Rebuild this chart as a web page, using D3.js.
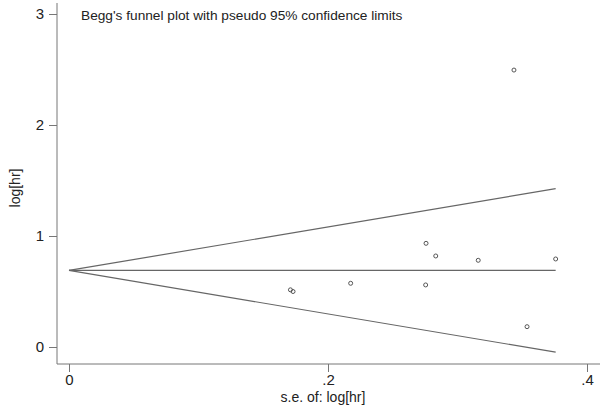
<!DOCTYPE html>
<html>
<head>
<meta charset="utf-8">
<script src="https://cdn.jsdelivr.net/npm/d3@7"></script>
<style>
  body { margin: 0; background: #fff; }
  text { font-family: "Liberation Sans", Arial, sans-serif; fill: #222; }
</style>
</head>
<body>
<svg width="600" height="406"></svg>
<script>
var svg = d3.select("svg");

// study estimates
var se    = [0.3436, 0.2757, 0.2832, 0.316, 0.3758, 0.2175, 0.2754, 0.3537, 0.171, 0.173];
var loghr = [2.495, 0.934, 0.82, 0.781, 0.793, 0.574, 0.559, 0.183, 0.515, 0.50];
var pooled = 0.69;
var seMax = 0.3758;
var xTicks = [0, 0.2, 0.4];
var xTickLabels = ["0", ".2", ".4"];
var yTicks = [0, 1, 2, 3];

var x = d3.scaleLinear().domain([0, 0.4]).range([69, 587]);
var y = d3.scaleLinear().domain([0, 3]).range([347, 14]);

var axisColor = "#777";

// axes
var xAxis = svg.append("g")
    .attr("transform", "translate(0,364)")
    .call(d3.axisBottom(x).tickValues(xTicks)
        .tickFormat(function(d, i) { return xTickLabels[i]; })
        .tickSize(8).tickPadding(2));
xAxis.select(".domain").remove();

var yAxis = svg.append("g")
    .attr("transform", "translate(57,0)")
    .call(d3.axisLeft(y).tickValues(yTicks).tickFormat(d3.format("d"))
        .tickSize(8).tickPadding(5));
yAxis.select(".domain").remove();

svg.selectAll(".tick line").attr("stroke", axisColor);
svg.selectAll(".tick text")
    .style("font-size", "15px")
    .style("font-family", "Liberation Sans, Arial, sans-serif")
    .attr("fill", "#222");

svg.append("line")
    .attr("x1", 57).attr("x2", 600)
    .attr("y1", 364).attr("y2", 364)
    .attr("stroke", axisColor);
svg.append("line")
    .attr("x1", 57).attr("x2", 57)
    .attr("y1", 3).attr("y2", 364)
    .attr("stroke", axisColor);

// funnel and pooled line
var lineColor = "#666";
[-1.96, 0, 1.96].forEach(function(z) {
  svg.append("line")
      .attr("x1", x(0)).attr("y1", y(pooled))
      .attr("x2", x(seMax)).attr("y2", y(pooled + z * seMax))
      .attr("stroke", lineColor)
      .attr("stroke-width", 1.2);
});

// points
svg.selectAll("circle.pt")
  .data(se)
  .enter()
  .append("circle")
    .attr("class", "pt")
    .attr("cx", function(d) { return x(d); })
    .attr("cy", function(d, i) { return y(loghr[i]); })
    .attr("r", 2)
    .attr("fill", "none")
    .attr("stroke", "#555")
    .attr("stroke-width", 1);

// titles
svg.append("text")
    .attr("x", 81).attr("y", 20)
    .style("font-size", "13.7px")
    .text("Begg's funnel plot with pseudo 95% confidence limits");

svg.append("text")
    .attr("x", 323).attr("y", 402)
    .attr("text-anchor", "middle")
    .style("font-size", "14px")
    .text("s.e. of: log[hr]");

svg.append("text")
    .attr("transform", "translate(20,188) rotate(-90)")
    .attr("text-anchor", "middle")
    .style("font-size", "14px")
    .text("log[hr]");
</script>
</body>
</html>
